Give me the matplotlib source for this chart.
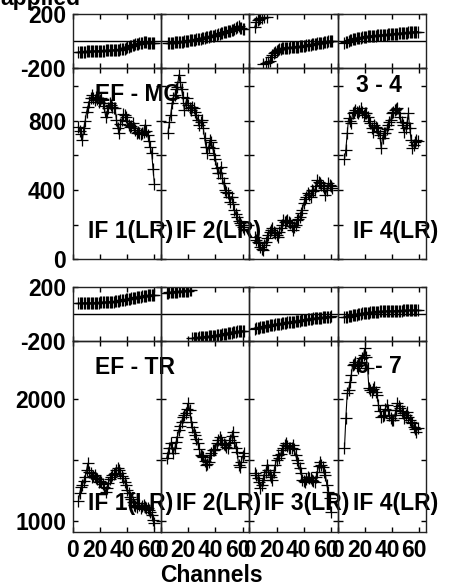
import numpy as np
import matplotlib
matplotlib.use('Agg')
import matplotlib.pyplot as plt
from matplotlib.transforms import ScaledTranslation

plt.rcParams['font.family'] = ['Liberation Sans', 'DejaVu Sans']
plt.rcParams['font.weight'] = 'bold'
plt.rcParams['font.size'] = 16.5

# ── Data: two baselines x four IFs, amplitude + phase per channel ──────
baselines = ['EF - MC', 'EF - TR']
baseline_nums = ['3 - 4', '6 - 7']
if_names = ['IF 1(LR)', 'IF 2(LR)', 'IF 3(LR)', 'IF 4(LR)']

# first channel of each panel  [baseline][IF]
start_ch = [[4, 5, 4, 5], [4, 4, 4, 5]]

amp_mc_if1 = [765, 740, 720, 690, 760, 800, 850, 880, 910, 930, 948, 930, 920, 935, 925,
              910, 920, 929, 900, 885, 823, 850, 871, 900, 890, 881, 875, 871, 804, 760,
              727, 780, 804, 838, 830, 823, 800, 775, 765, 770, 785, 760, 746, 727, 735,
              731, 723, 730, 737, 775, 740, 717, 680, 650, 612, 520, 435]
amp_mc_if2 = [727, 790, 833, 900, 930, 948, 980, 996, 1063, 1025, 980, 938, 862, 900, 929,
              890, 875, 862, 881, 870, 852, 830, 804, 775, 790, 804, 756, 700, 650, 612,
              650, 688, 679, 640, 600, 580, 525, 500, 496, 535, 470, 438, 400, 390, 381,
              360, 333, 362, 320, 285, 260, 246, 220, 208, 195, 188, 175]
amp_mc_if3 = [130, 111, 100, 92, 70, 60, 53, 82, 100, 121, 140, 160, 170, 179, 160,
              150, 140, 131, 160, 179, 200, 227, 217, 222, 227, 217, 210, 190, 170, 185,
              198, 227, 235, 246, 265, 285, 323, 345, 362, 381, 370, 362, 400, 395, 400,
              420, 458, 445, 438, 429, 420, 410, 371, 400, 438, 429, 420, 410]
amp_mc_if4 = [577, 631, 727, 813, 800, 785, 842, 850, 862, 850, 842, 855, 871, 850, 833,
              842, 842, 823, 800, 785, 760, 737, 775, 765, 760, 740, 717, 640, 700, 727,
              727, 750, 775, 790, 804, 842, 850, 862, 865, 871, 842, 820, 790, 775, 737,
              760, 785, 842, 760, 688, 640, 660, 679, 688, 680]

amp_tr_if1 = [1164, 1230, 1281, 1295, 1330, 1363, 1418, 1473, 1404, 1390, 1363, 1370, 1377,
              1350, 1340, 1322, 1330, 1322, 1300, 1281, 1240, 1270, 1309, 1340, 1363, 1377,
              1385, 1391, 1418, 1437, 1420, 1391, 1370, 1350, 1320, 1295, 1254, 1230, 1200,
              1180, 1159, 1131, 1125, 1118, 1145, 1130, 1104, 1120, 1131, 1118, 1110, 1104,
              1090, 1077, 1049, 1010, 981]
amp_tr_if2 = [1514, 1560, 1596, 1637, 1600, 1555, 1596, 1650, 1691, 1746, 1780, 1814, 1850,
              1869, 1883, 1920, 1964, 1910, 1814, 1770, 1732, 1705, 1670, 1637, 1590, 1541,
              1535, 1527, 1490, 1459, 1470, 1486, 1541, 1560, 1582, 1580, 1590, 1637, 1660,
              1691, 1660, 1637, 1630, 1623, 1610, 1596, 1640, 1664, 1700, 1732, 1650, 1600,
              1568, 1459, 1445, 1486, 1530, 1555]
amp_tr_if3 = [1391, 1377, 1350, 1320, 1270, 1295, 1336, 1380, 1404, 1459, 1420, 1377, 1360,
              1336, 1400, 1459, 1500, 1541, 1514, 1550, 1582, 1600, 1623, 1637, 1615, 1596,
              1600, 1596, 1623, 1590, 1541, 1500, 1473, 1430, 1391, 1336, 1330, 1322, 1340,
              1363, 1355, 1350, 1336, 1330, 1322, 1360, 1404, 1450, 1486, 1460, 1445, 1400,
              1377, 1295, 1240, 1186, 1077]
amp_tr_if4 = [1601, 1842, 2046, 2074, 2140, 2197, 2279, 2290, 2306, 2270, 2251, 2279, 2300,
              2333, 2361, 2415, 2340, 2251, 2087, 2070, 2060, 2080, 2101, 2060, 2033, 1951,
              1900, 1855, 1860, 1869, 1920, 1951, 1910, 1870, 1842, 1830, 1828, 1870, 1910,
              1964, 1940, 1924, 1900, 1883, 1842, 1870, 1896, 1855, 1830, 1815, 1801, 1773,
              1750, 1732, 1760]

ph_mc_if1 = [-82, -81, -81, -80, -79, -79, -78, -78, -77, -77, -76, -76, -75, -75, -74,
             -74, -73, -73, -72, -72, -71, -71, -70, -70, -69, -68, -68, -67, -66, -65,
             -64, -63, -62, -60, -57, -53, -48, -44, -40, -36, -32, -28, -25, -22, -20,
             -18, -15, -13, -11, -10, -10, -12, -13, -14, -15, -16, -17]
ph_mc_if2 = [-18, -17, -15, -13, -12, -11, -10, -9, -8, -7, -6, -5, -3, -1, 0, 2, 4, 6,
             7, 8, 10, 12, 14, 16, 18, 20, 22, 25, 28, 30, 32, 34, 36, 38, 41, 44, 47,
             50, 54, 58, 62, 65, 68, 70, 72, 75, 78, 82, 85, 90, 100, 108, 112, 100, 95,
             90, 88]
ph_mc_if3 = [107, 140, 160, 168, 172, 176, -172, 178, -167, 179, -155, -148, -120, -105,
             -90, -80, -72, -66, -62, -58, -55, -54, -52, -51, -50, -49, -48, -48, -47,
             -46, -45, -44, -42, -41, -40, -38, -36, -35, -33, -31, -29, -27, -25, -23,
             -21, -20, -18, -16, -14, -13, -12, -10, -8, -5, -3, 0, 2, 3]
ph_mc_if4 = [-12, -8, -4, 0, 4, 8, 12, 15, 18, 20, 22, 24, 26, 28, 30, 32, 33, 35, 36,
             37, 38, 39, 40, 41, 42, 43, 44, 45, 45, 46, 47, 48, 49, 50, 51, 52, 53, 54,
             55, 56, 57, 58, 59, 60, 61, 62, 63, 64, 65, 66, 67, 68, 69, 70, 70]

ph_tr_if1 = [80, 81, 81, 82, 82, 82, 83, 83, 83, 84, 84, 84, 85, 85, 86, 86, 87, 87, 88,
             88, 89, 89, 90, 91, 92, 93, 94, 95, 96, 98, 100, 102, 104, 106, 108, 110,
             112, 114, 116, 118, 119, 121, 123, 125, 127, 129, 131, 133, 135, 137, 138,
             139, 140, 141, 142, 143, 144]
ph_tr_if2 = [160, 161, 162, 163, 164, 165, 166, 167, 168, 169, 170, 171, 172, 173, 174,
             175, 176, 177, 178, -178, -177, -176, -175, -174, -173, -172, -171, -170,
             -169, -168, -167, -166, -165, -164, -163, -162, -161, -159, -157, -155, -153,
             -151, -149, -147, -145, -143, -141, -139, -137, -135, -133, -131, -129, -128,
             -127, -126, -125, -123]
ph_tr_if3 = [-108, -105, -103, -100, -98, -96, -94, -92, -90, -88, -86, -84, -82, -80,
             -78, -77, -75, -73, -72, -70, -68, -67, -65, -64, -62, -61, -59, -58, -57,
             -55, -54, -52, -50, -49, -47, -45, -44, -42, -40, -39, -37, -36, -34, -32,
             -31, -30, -29, -27, -26, -25, -24, -22, -21, -20, -19, -18, -17]
ph_tr_if4 = [-22, -20, -18, -15, -13, -11, -9, -7, -5, -3, -1, 1, 3, 5, 7, 9, 10, 11, 12,
             13, 14, 15, 16, 17, 18, 19, 20, 20, 21, 21, 22, 22, 23, 23, 24, 24, 25, 25,
             26, 26, 27, 27, 27, 28, 28, 28, 28, 29, 29, 29, 29, 29, 30, 30, 30]

amps = [[amp_mc_if1, amp_mc_if2, amp_mc_if3, amp_mc_if4],
        [amp_tr_if1, amp_tr_if2, amp_tr_if3, amp_tr_if4]]
phases = [[ph_mc_if1, ph_mc_if2, ph_mc_if3, ph_mc_if4],
          [ph_tr_if1, ph_tr_if2, ph_tr_if3, ph_tr_if4]]

amp_lims = [(0, 1105), (912, 2475)]
amp_ticks = [[0, 200, 400, 600, 800, 1000], [1000, 1500, 2000]]
amp_labels = [['0', '', '400', '', '800', ''], ['1000', '', '2000']]
show_if = [[True, True, False, True], [True, True, True, True]]

# ── Layout (pixel edges of the reference) ──────────────────────────────
W, H = 460, 588
xs = [73, 161.2, 249.4, 337.7, 426]
rows = [(14.3, 67.7, 259.3), (287.3, 341, 531.7)]   # phase top, split, amp bottom

def rect(x0, x1, y0, y1):
    return [x0 / W, 1 - y1 / H, (x1 - x0) / W, (y1 - y0) / H]

fig = plt.figure(figsize=(W / 100, H / 100), dpi=100)
fig.patch.set_facecolor('white')

def style(ax):
    ax.set_facecolor('none')
    for s in ax.spines.values():
        s.set_linewidth(1.0)
        s.set_color('#222222')
    ax.tick_params(direction='in', length=3.5, width=1, top=True, right=True,
                   pad=5, labelsize=16.5)
    ax.set_xlim(0, 65)
    ax.set_xticks([0, 20, 40, 60])

lkw = dict(color='black', marker='+', markersize=8, markeredgewidth=0.9,
           linewidth=0.8)
shift = ScaledTranslation(-5 / 100, 0, fig.dpi_scale_trans)

for r in range(2):
    yt, ym, yb = rows[r]
    for i in range(4):
        # phase panel
        axp = fig.add_axes(rect(xs[i], xs[i + 1], yt, ym))
        style(axp)
        ph = np.array(phases[r][i], dtype=float)
        chp = np.arange(start_ch[r][i], start_ch[r][i] + len(ph))
        ph_line = ph.copy()
        jumps = np.where(np.abs(np.diff(ph)) > 180)[0]
        ph_line[jumps] = np.nan
        ph_line[jumps + 1] = np.nan
        axp.plot(chp, ph_line, color='black', linewidth=0.8)
        axp.plot(chp, ph, linestyle='none', color='black', marker='+',
                 markersize=8, markeredgewidth=0.9)
        axp.axhline(0, color='black', linewidth=1.0)
        axp.set_ylim(-200, 200)
        axp.set_yticks([-200, 200])
        axp.set_yticklabels(['-200', '200'])
        axp.tick_params(labelbottom=False, labelleft=(i == 0))

        # amplitude panel
        axa = fig.add_axes(rect(xs[i], xs[i + 1], ym, yb))
        style(axa)
        am = amps[r][i]
        cha = np.arange(start_ch[r][i], start_ch[r][i] + len(am))
        axa.plot(cha, am, zorder=3, **lkw)
        axa.set_ylim(*amp_lims[r])
        axa.set_yticks(amp_ticks[r])
        axa.set_yticklabels(amp_labels[r])
        axa.tick_params(labelbottom=(r == 1), labelleft=(i == 0))
        if r == 1:
            for lab in axa.get_xticklabels()[1:]:
                lab.set_transform(lab.get_transform() + shift)

        if show_if[r][i]:
            axa.text(0.168, 0.112, if_names[i], transform=axa.transAxes,
                     fontsize=16.5, fontweight='bold', va='baseline',
                     clip_on=False, zorder=1)
        if i == 0:
            axa.text(0.255, 0.828, baselines[r], transform=axa.transAxes,
                     fontsize=16.5, fontweight='bold', va='baseline',
                     clip_on=False, zorder=1)
        if i == 3:
            axa.text(0.21, 0.873 if r == 0 else 0.831, baseline_nums[r],
                     transform=axa.transAxes, fontsize=16.5, fontweight='bold',
                     va='baseline', clip_on=False, zorder=1)

fig.text(211.8 / W, 1 - 581.7 / H, 'Channels', ha='center', va='baseline',
         fontsize=16.5, fontweight='bold')
fig.text(0.0, 1 - 4.5 / H, 'applied', ha='left', va='baseline',
         fontsize=16.5, fontweight='bold')

fig.savefig('out.png', dpi=100)
